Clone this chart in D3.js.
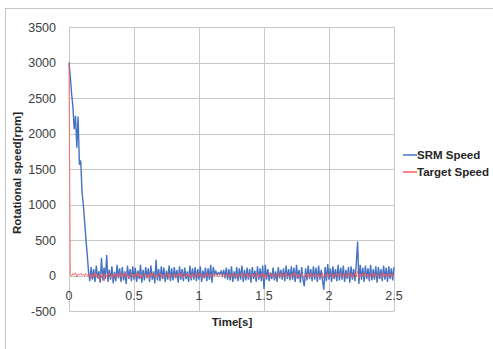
<!DOCTYPE html>
<html>
<head>
    <script src="https://d3js.org/d3.v7.min.js"></script>
    <style type="text/css">
        body { margin: 0; background: #ffffff; font-family: "Liberation Sans", Arial, sans-serif; }
        .tick-label { font-size: 12.5px; fill: #404040; }
        .axis-title { font-size: 11.5px; font-weight: bold; fill: #262626; }
        .legend-text { font-size: 11.5px; font-weight: bold; fill: #262626; }
        .grid line { stroke: #c8c8c8; stroke-width: 1; shape-rendering: crispEdges; }
    </style>
</head>
<body>
<svg id="chart" width="493" height="349"></svg>
<script>
    // sampling interval of the recorded data (s)
    var dt = 0.01;

    var xTicks = [0, 0.5, 1, 1.5, 2, 2.5];
    var xTickLabels = ["0", "0.5", "1", "1.5", "2", "2.5"];
    var yTicks = [-500, 0, 500, 1000, 1500, 2000, 2500, 3000, 3500];
    var yTickLabels = ["-500", "0", "500", "1000", "1500", "2000", "2500", "3000", "3500"];

    var seriesNames = ["SRM Speed", "Target Speed"];
    var seriesColors = ["#4472c4", "#ff5a5a"];

    var srmSpeed = [
        3000, 2800, 2560, 2380, 2060, 2250, 1800, 2240, 1560, 1620,
        1180, 1000, 760, 520, 300, 60, -80, 120, -60, 90,
        -90, 140, -40, 60, -100, 250, -70, 110, -50, 290,
        -90, 80, -60, 130, -110, 50, -80, 150, -40, 100,
        -90, 120, -70, 60, -120, 140, -50, 90, -80, 130,
        -60, 110, -90, 70, -50, 150, -100, 80, -70, 120,
        -40, 100, -90, 140, -60, 60, -110, 220, -70, 90,
        -80, 130, -50, 110, -90, 70, -60, 140, -80, 100,
        -70, 120, -40, 80, -100, 130, -60, 90, -80, 110,
        -50, 60, -90, 140, -70, 100, -60, 120, -80, 90,
        -60, 130, -90, 70, -40, 110, -80, 100, -60, 150,
        -100, 120, 20, 60, 10, 40, 20, 60, 0, 80,
        -40, 110, -60, 90, -70, 130, -90, 60, -50, 120,
        -80, 100, -60, 140, -90, 80, -70, 110, -60, 90,
        -100, 120, -50, 70, -90, 130, -60, 100, -80, 140,
        -190, 150, -60, 90, -80, 40, -50, 110, -70, 60,
        -90, 120, -40, 80, -60, 100, -80, 140, -50, 90,
        -70, 130, -60, 110, -90, 150, -50, 80, -100, 120,
        -60, -150, 100, -70, 140, -50, 90, -80, 130, -60,
        110, -90, 140, -60, 80, -70, -200, 120, -80, 160,
        -60, 100, -90, 130, -50, 90, -80, 150, -70, 110,
        -60, 140, -90, 80, -50, 120, -100, 130, -60, 90,
        -80, 170, 480, -120, 150, -60, 110, -90, 140, -50,
        100, -80, 150, -70, 90, -60, 130, -100, 120, -50,
        90, -80, 140, -60, 110, -90, 130, -50, 100, -70, 120
    ];

    var targetSpeed = [
        3000, 20, -10, 30, 10, 40, -20, 20, 10, 30,
        0, 20, -10, 30, 10, -20, 30, -40, 20, -30,
        40, -20, 10, -50, 30, -30, 20, -80, 30, -20,
        10, 40, -30, 20, -40, 30, -10, 20, -30, 40,
        -20, 30, -10, 40, -30, 20, -40, 10, 30, -20,
        20, -30, 40, -10, 30, -40, 20, -20, 10, 30,
        -30, 20, -40, 30, -10, 40, -20, 10, -30, 20,
        30, -20, 10, -40, 20, -10, 40, -30, 20, -20,
        10, 30, -40, 20, -10, 30, -20, 40, -30, 10,
        -20, 30, -10, 20, -40, 30, -20, 10, 40, -30,
        20, -10, 30, -30, 10, -20, 40, -10, 20, -30,
        10, 20, -10, 30, 0, -20, 20, 10, -10, 30,
        -20, 10, 30, -30, 20, -10, 40, -20, 10, -30,
        30, -20, 10, 40, -30, 20, -10, 30, -40, 20,
        -10, 30, -20, 10, -30, 40, -20, 20, -10, 30,
        -50, 20, -30, 10, 40, -20, 30, -10, 20, -30,
        10, 40, -20, 30, -30, 20, -10, 40, -20, 10,
        -30, 20, 30, -10, 40, -30, 20, -20, 10, 30,
        -20, -40, 20, -10, 30, -30, 40, -20, 10, -10,
        30, -20, 20, -30, 10, 40, -40, 20, -10, 30,
        -20, 10, 40, -30, 20, -10, 30, -20, 10, 40,
        -30, 20, -10, 30, -20, 50, -10, 20, -30, 10,
        40, -20, 60, -30, 20, -10, 30, -20, 40, -10,
        20, -30, 10, 40, -20, 30, -10, 20, -30, 10,
        30, -20, 40, -10, 20, -30, 30, -10, 20, -20, 30
    ];

    var svg = d3.select("#chart");

    var margin = { left: 69, right: 99, top: 27, bottom: 38 },
        width = 493 - margin.left - margin.right,
        height = 349 - margin.top - margin.bottom;

    // outer chart frame (cropped on the right and bottom in the original)
    svg.append("rect")
        .attr("x", 5.5).attr("y", 8.5)
        .attr("width", 520).attr("height", 400)
        .attr("fill", "none").attr("stroke", "#c4c4c4");

    var g = svg.append("g")
        .attr("transform", "translate(" + margin.left + "," + margin.top + ")");

    var x = d3.scaleLinear().domain([0, 2.5]).range([0, width]);
    var y = d3.scaleLinear().domain([-500, 3500]).range([height, 0]);

    // grid
    g.append("g").attr("class", "grid")
        .selectAll("line.h").data(yTicks).enter().append("line")
        .attr("x1", 0).attr("x2", width)
        .attr("y1", function(d) { return Math.round(y(d)) + 0.5; })
        .attr("y2", function(d) { return Math.round(y(d)) + 0.5; });
    g.append("g").attr("class", "grid")
        .selectAll("line.v").data(xTicks).enter().append("line")
        .attr("y1", 0).attr("y2", height)
        .attr("x1", function(d) { return Math.round(x(d)) + 0.5; })
        .attr("x2", function(d) { return Math.round(x(d)) + 0.5; });

    // y tick labels
    g.selectAll("text.ylab").data(yTicks).enter().append("text")
        .attr("class", "tick-label")
        .attr("x", -13)
        .attr("y", function(d) { return y(d); })
        .attr("dy", "0.36em")
        .attr("text-anchor", "end")
        .text(function(d, i) { return yTickLabels[i]; });

    // x tick labels sit below the zero line
    g.selectAll("text.xlab").data(xTicks).enter().append("text")
        .attr("class", "tick-label")
        .attr("x", function(d) { return x(d); })
        .attr("y", y(0) + 24)
        .attr("text-anchor", "middle")
        .text(function(d, i) { return xTickLabels[i]; });

    var line = d3.line()
        .x(function(d, i) { return x(i * dt); })
        .y(function(d) { return y(d); });

    g.append("path").datum(srmSpeed)
        .attr("fill", "none")
        .attr("stroke", seriesColors[0])
        .attr("stroke-width", 1.4)
        .attr("d", line);

    g.append("path").datum(targetSpeed)
        .attr("fill", "none")
        .attr("stroke", seriesColors[1])
        .attr("stroke-width", 1)
        .attr("stroke-opacity", 0.85)
        .attr("d", line);

    // axis titles
    svg.append("text").attr("class", "axis-title")
        .attr("x", 232).attr("y", 326)
        .attr("text-anchor", "middle")
        .text("Time[s]");

    svg.append("text").attr("class", "axis-title")
        .attr("transform", "translate(21,173) rotate(-90)")
        .attr("text-anchor", "middle")
        .text("Rotational speed[rpm]");

    // legend
    var legend = svg.append("g").attr("transform", "translate(403,155)");
    seriesNames.forEach(function(name, i) {
        legend.append("line")
            .attr("x1", 0).attr("x2", 14)
            .attr("y1", i * 17).attr("y2", i * 17)
            .attr("stroke", seriesColors[i]).attr("stroke-width", 1.5);
        legend.append("text").attr("class", "legend-text")
            .attr("x", 14).attr("y", i * 17).attr("dy", "0.35em")
            .text(name);
    });
</script>
</body>
</html>
